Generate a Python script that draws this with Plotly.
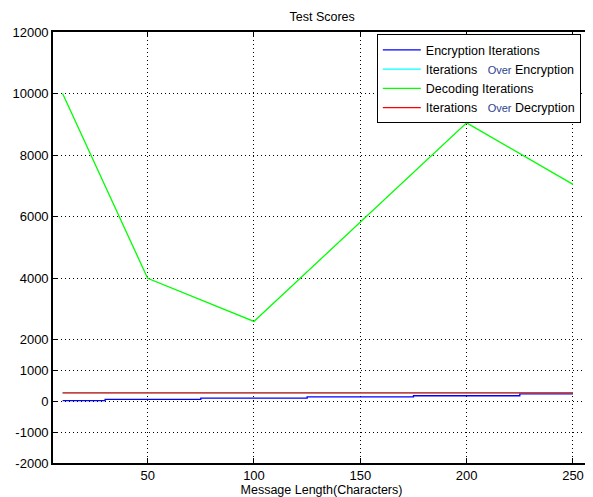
import plotly.graph_objects as go

# Data
enc_x = [10, 50, 100, 150, 200, 250]
enc_y = [25, 65, 110, 145, 185, 250]          # Encryption Iterations (step)
over_enc_x = [10, 250]
over_enc_y = [275, 275]                        # Iterations Over Encryption (hidden under red)
dec_x = [10, 50, 100, 200, 250]
dec_y = [10000, 4000, 2600, 9050, 7050]        # Decoding Iterations
over_dec_x = [10, 250]
over_dec_y = [275, 275]                        # Iterations Over Decryption

y_ticks = [-2000, -1000, 0, 1000, 2000, 4000, 6000, 8000, 10000, 12000]
y_labels = [str(v) for v in y_ticks]
x_ticks = [50, 100, 150, 200, 250]

FONT = "Liberation Sans, Arial, sans-serif"
over = "<span style='color:#2b3f8f;font-size:11px'>Over</span>"

fig = go.Figure()
fig.add_trace(go.Scatter(x=enc_x, y=enc_y, mode="lines", line_shape="hvh",
                         name="Encryption Iterations", line=dict(color="#0000ff", width=1.3)))
fig.add_trace(go.Scatter(x=over_enc_x, y=over_enc_y, mode="lines",
                         name="Iterations   " + over + " Encryption", line=dict(color="#00ffff", width=1.3)))
fig.add_trace(go.Scatter(x=dec_x, y=dec_y, mode="lines",
                         name="Decoding Iterations", line=dict(color="#00ff00", width=1.3)))
fig.add_trace(go.Scatter(x=over_dec_x, y=over_dec_y, mode="lines",
                         name="Iterations   " + over + " Decryption", line=dict(color="#ff0000", width=1.3)))

axis_common = dict(showline=True, linecolor="black", linewidth=1.6, mirror="ticks",
                   ticks="inside", ticklen=5, tickcolor="black",
                   showgrid=True, gridcolor="black", gridwidth=1, griddash="1px,3px",
                   zeroline=False, tickfont=dict(family=FONT, size=13, color="black"))

# The page body adds an 8px offset, so the figure is sized/margined to compensate.
fig.update_layout(
    width=585, height=489,
    margin=dict(l=45, r=1, t=24, b=27),
    paper_bgcolor="white", plot_bgcolor="white",
    title=dict(text="Test Scores", x=0.537, xanchor="center", y=0.982, yanchor="middle",
               font=dict(family=FONT, size=12.5, color="black")),
    xaxis=dict(range=[5.5, 258], tickvals=x_ticks,
               title=dict(text="Message Length(Characters)", standoff=4,
                          font=dict(family=FONT, size=12.5, color="black")),
               **axis_common),
    yaxis=dict(range=[-2000, 12000], tickvals=y_ticks, ticktext=y_labels, **axis_common),
    legend=dict(x=0.603, y=0.995, xanchor="left", yanchor="top",
                bgcolor="white", bordercolor="black", borderwidth=1,
                font=dict(family=FONT, size=12.5, color="black"),
                itemwidth=38, tracegroupgap=0),
    showlegend=True,
)

fig.write_html("out.html")
